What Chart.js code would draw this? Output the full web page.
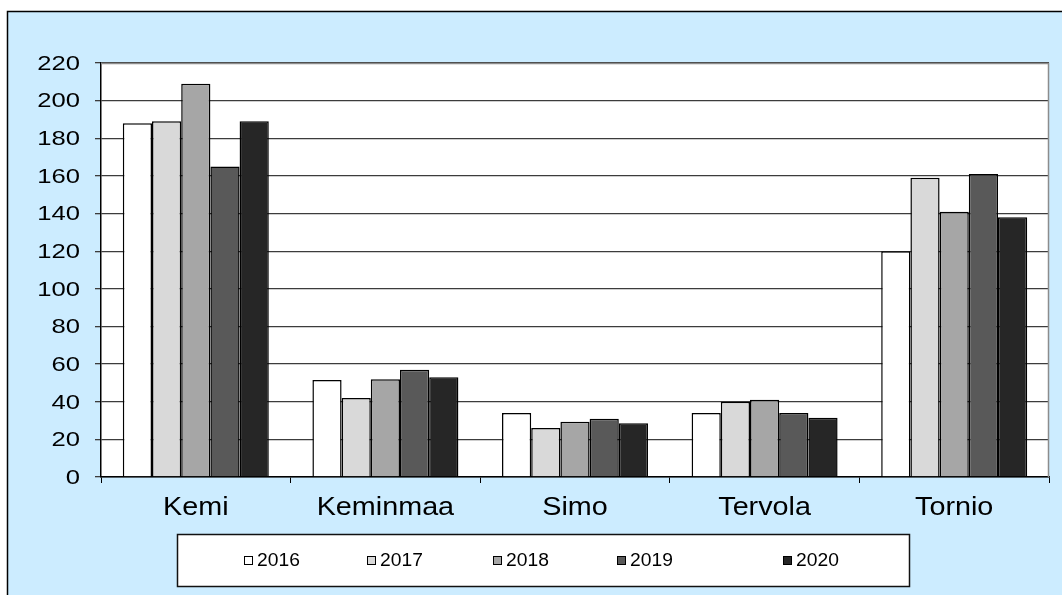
<!DOCTYPE html>
<html>
<head>
<meta charset="utf-8">
<script src="https://cdn.jsdelivr.net/npm/chart.js@4/dist/chart.umd.min.js"></script>
<style>
  html, body { margin: 0; padding: 0; background: #fff; }
  canvas { display: block; }
</style>
</head>
<body>
<canvas id="chart" width="1062" height="595"></canvas>
<script>
const municipalities = ["Kemi", "Keminmaa", "Simo", "Tervola", "Tornio"];
const years = ["2016", "2017", "2018", "2019", "2020"];
const values2016 = [188, 51.5, 34, 34, 120];
const values2017 = [189, 42, 26, 40, 159];
const values2018 = [209, 52, 29.4, 41, 141];
const values2019 = [165, 57, 31, 34, 161];
const values2020 = [189, 53, 28.6, 31.5, 138];
const yTicks = [0, 20, 40, 60, 80, 100, 120, 140, 160, 180, 200, 220];

const fills = ["#ffffff", "#d9d9d9", "#a6a6a6", "#595959", "#262626"];
const legendX = [244, 367, 493, 617, 783];
const FONT = '"Liberation Sans", Arial, sans-serif';

function stretchText(ctx, text, x, y, align, sx) {
  ctx.save();
  ctx.translate(x, y);
  ctx.scale(sx, 1);
  ctx.textAlign = align;
  ctx.textBaseline = "middle";
  ctx.fillText(text, 0, 0);
  ctx.restore();
}

const frame = {
  id: "frame",
  beforeDraw(chart) {
    const ctx = chart.ctx;
    const a = chart.chartArea;
    ctx.save();
    ctx.fillStyle = "#ccecff";
    ctx.fillRect(7, 11, chart.width - 7, chart.height - 11);
    ctx.strokeStyle = "#000";
    ctx.lineWidth = 1.5;
    ctx.beginPath();
    ctx.moveTo(7.5, chart.height);
    ctx.lineTo(7.5, 11.5);
    ctx.lineTo(chart.width, 11.5);
    ctx.stroke();
    ctx.fillStyle = "#fff";
    ctx.fillRect(a.left, a.top, a.right - a.left, a.bottom - a.top);
    ctx.restore();
  },
  afterDraw(chart) {
    const ctx = chart.ctx;
    const a = chart.chartArea;
    ctx.save();
    // plot area top/right edge
    ctx.strokeStyle = "#8c8c8c";
    ctx.lineWidth = 1.5;
    ctx.beginPath();
    ctx.moveTo(a.left, a.top + 0.5);
    ctx.lineTo(a.right - 0.5, a.top + 0.5);
    ctx.lineTo(a.right - 0.5, a.bottom);
    ctx.stroke();

    // y tick labels
    ctx.fillStyle = "#000";
    ctx.font = "21px " + FONT;
    const ys = chart.scales.y;
    yTicks.forEach(v => {
      stretchText(ctx, String(v), 80, ys.getPixelForValue(v) + 1, "right", 1.22);
    });

    // category labels
    ctx.font = "25px " + FONT;
    const xs = chart.scales.x;
    municipalities.forEach((m, i) => {
      stretchText(ctx, m, xs.getPixelForValue(i), 508, "center", 1.15);
    });

    // legend
    ctx.fillStyle = "#fff";
    ctx.fillRect(177, 534, 733, 53);
    ctx.strokeStyle = "#111";
    ctx.lineWidth = 1.5;
    ctx.strokeRect(177.5, 534.5, 732, 52);
    ctx.font = "18px " + FONT;
    chart.data.datasets.forEach((ds, i) => {
      const x = legendX[i];
      ctx.fillStyle = ds.backgroundColor;
      ctx.fillRect(x, 556, 9, 9);
      ctx.strokeStyle = "#000";
      ctx.lineWidth = 1;
      ctx.strokeRect(x + 0.5, 556.5, 8, 8);
      ctx.fillStyle = "#000";
      stretchText(ctx, ds.label, x + 13, 561, "left", 1.07);
    });
    ctx.restore();
  }
};

const datasets = [values2016, values2017, values2018, values2019, values2020].map((vals, i) => ({
  label: years[i],
  data: vals,
  backgroundColor: fills[i],
  borderColor: "#000",
  borderWidth: 1.5,
  borderSkipped: "bottom"
}));

new Chart(document.getElementById("chart"), {
  type: "bar",
  data: { labels: municipalities, datasets: datasets },
  options: {
    responsive: false,
    animation: false,
    devicePixelRatio: 1,
    layout: { padding: { top: 63, right: 13, left: 0, bottom: 0 } },
    datasets: { bar: { barPercentage: 1, categoryPercentage: 0.77 } },
    plugins: {
      legend: { display: false },
      tooltip: { enabled: false }
    },
    scales: {
      x: {
        offset: true,
        ticks: { display: false },
        grid: { display: true, drawOnChartArea: false, drawTicks: true, tickLength: 6, color: "#000", offset: true },
        border: { display: true, color: "#000", width: 1.5 },
        afterFit(scale) { scale.height = 118; }
      },
      y: {
        min: 0,
        max: 220,
        ticks: { display: false, stepSize: 20 },
        grid: { color: "#3c3c3c", lineWidth: 1.3, drawTicks: true, tickLength: 6 },
        border: { display: true, color: "#000", width: 1.5 },
        afterFit(scale) { scale.width = 101; }
      }
    }
  },
  plugins: [frame]
});
</script>
</body>
</html>
